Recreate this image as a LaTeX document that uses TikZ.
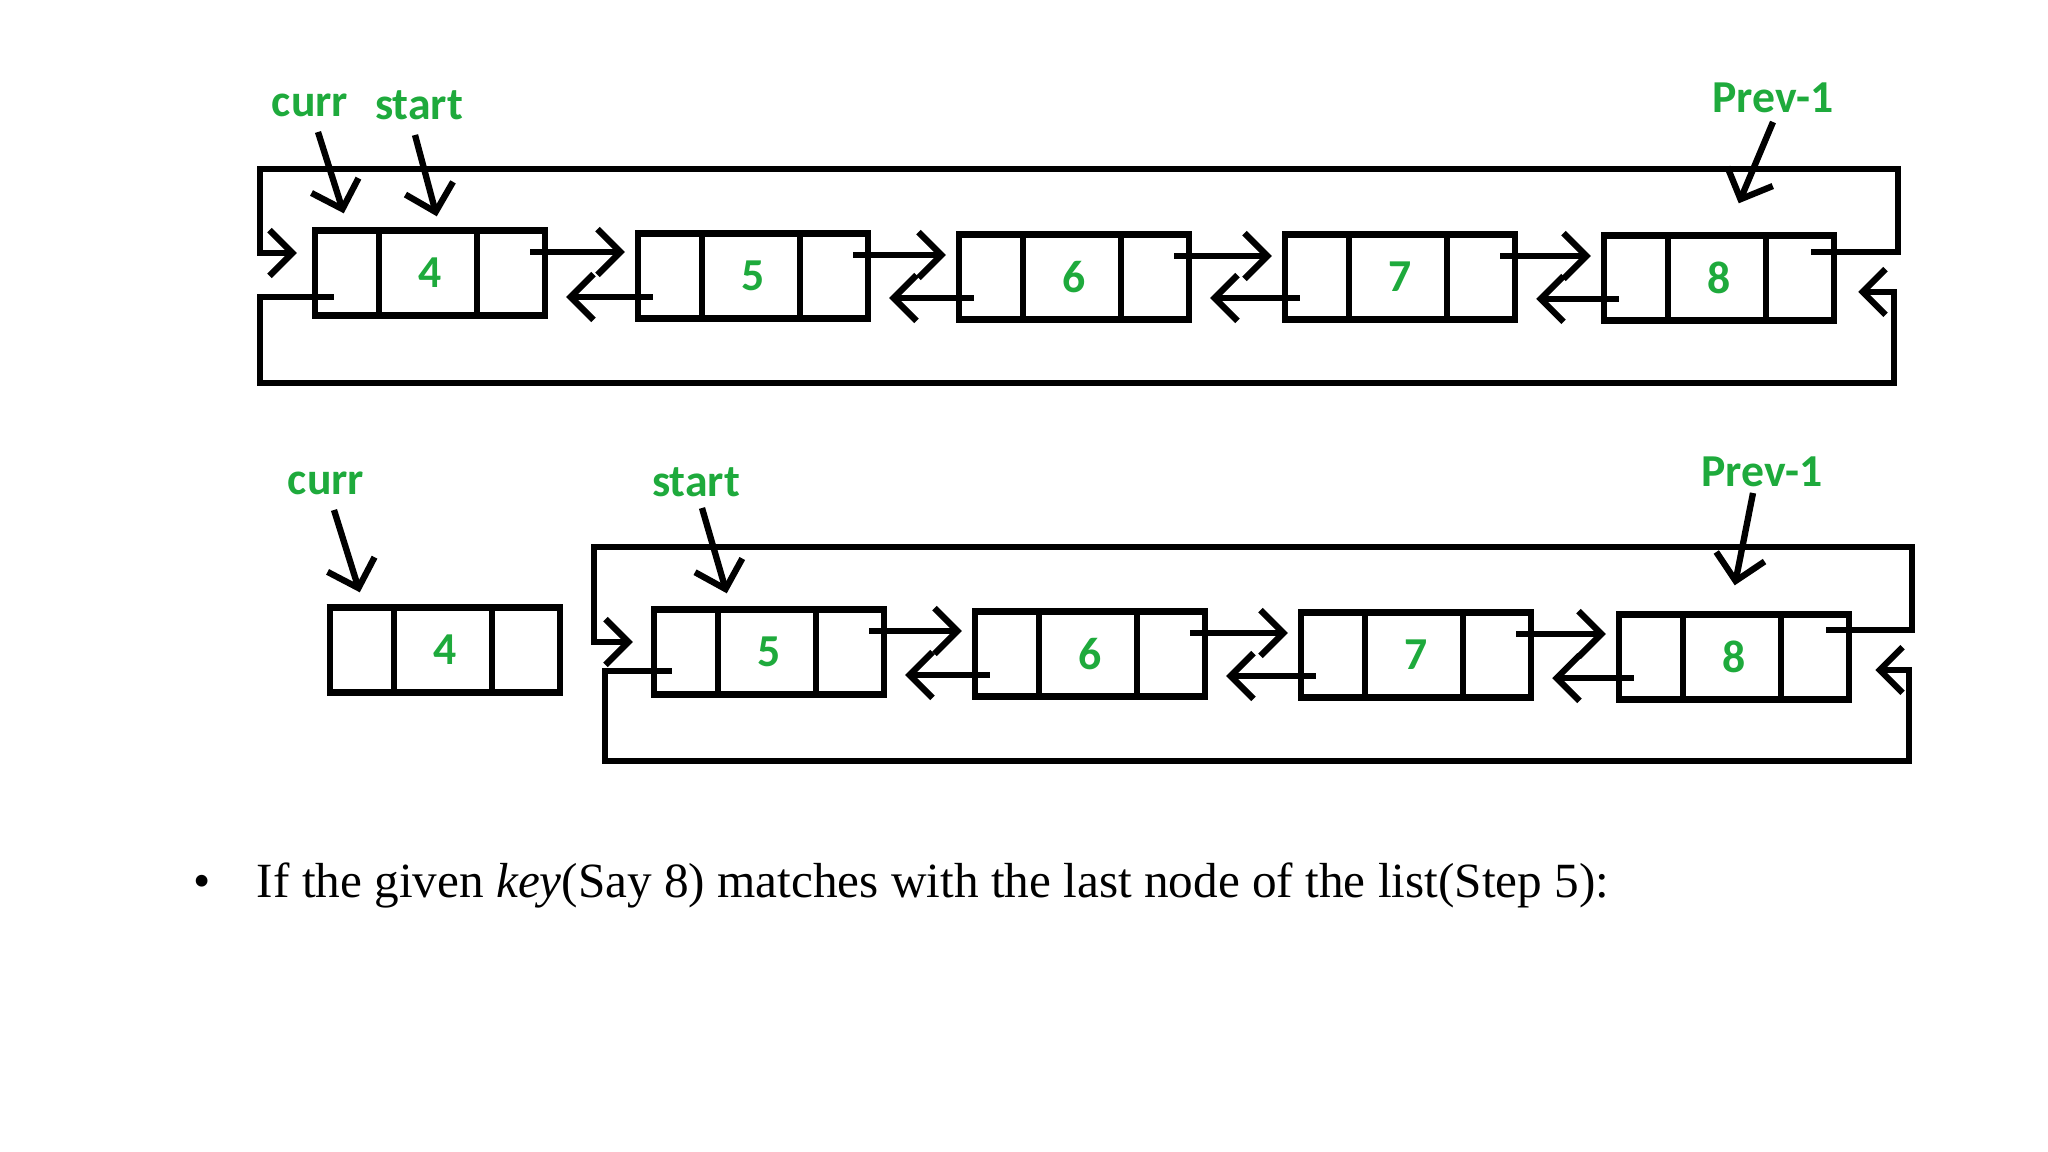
\documentclass[tikz,border=0pt]{standalone}
\usepackage{fontspec}
\setmainfont{Liberation Serif}
\newfontfamily\greenfont{Carlito}
\usetikzlibrary{arrows.meta,calc}
\definecolor{LLGreen}{HTML}{1EAA3C}

\begin{document}
\begin{tikzpicture}[x=0.01cm,y=-0.01cm,
  cellbox/.style={draw=black,line width=1.8pt,minimum width=2.3cm,minimum height=0.85cm,inner sep=0pt,
    font=\greenfont\bfseries\fontsize{13}{15}\selectfont,text=LLGreen},
  divline/.style={line width=1.8pt},
  link/.style={line width=1.8pt,-{Straight Barb[length=6.5pt,width=13pt]}},
  ptr/.style={line width=1.8pt,-{Straight Barb[length=7pt,width=14pt]}},
  lbl/.style={inner sep=0pt,font=\greenfont\bfseries\fontsize{13}{15}\selectfont,text=LLGreen}]
\path[use as bounding box] (0,0) rectangle (2048,1152);
\fill[white] (0,0) rectangle (2048,1152);

% upper list
\node[cellbox] (t4) at (430,273) {4};
\node[cellbox] (t5) at (753,276) {5};
\node[cellbox] (t6) at (1074,277) {6};
\node[cellbox] (t7) at (1400,277) {7};
\node[cellbox] (t8) at (1719,278) {8};
\draw[divline] ($(t4.north west)+(67,0)$) -- ($(t4.south west)+(67,0)$);
\draw[divline] ($(t4.north west)+(165,0)$) -- ($(t4.south west)+(165,0)$);
\draw[divline] ($(t5.north west)+(67,0)$) -- ($(t5.south west)+(67,0)$);
\draw[divline] ($(t5.north west)+(165,0)$) -- ($(t5.south west)+(165,0)$);
\draw[divline] ($(t6.north west)+(67,0)$) -- ($(t6.south west)+(67,0)$);
\draw[divline] ($(t6.north west)+(165,0)$) -- ($(t6.south west)+(165,0)$);
\draw[divline] ($(t7.north west)+(67,0)$) -- ($(t7.south west)+(67,0)$);
\draw[divline] ($(t7.north west)+(165,0)$) -- ($(t7.south west)+(165,0)$);
\draw[divline] ($(t8.north west)+(67,0)$) -- ($(t8.south west)+(67,0)$);
\draw[divline] ($(t8.north west)+(165,0)$) -- ($(t8.south west)+(165,0)$);
\draw[link] ($(t4.east)+(-18,-21)$) -- ($(t5.west |- t4.east)+(-10,-21)$);
\draw[link] ($(t5.west)+(18,21)$) -- ($(t4.east |- t5.west)+(18,21)$);
\draw[link] ($(t5.east)+(-18,-21)$) -- ($(t6.west |- t5.east)+(-10,-21)$);
\draw[link] ($(t6.west)+(18,21)$) -- ($(t5.east |- t6.west)+(18,21)$);
\draw[link] ($(t6.east)+(-18,-21)$) -- ($(t7.west |- t6.east)+(-10,-21)$);
\draw[link] ($(t7.west)+(18,21)$) -- ($(t6.east |- t7.west)+(18,21)$);
\draw[link] ($(t7.east)+(-18,-21)$) -- ($(t8.west |- t7.east)+(-10,-21)$);
\draw[link] ($(t8.west)+(18,21)$) -- ($(t7.east |- t8.west)+(18,21)$);
\draw[link] ($(t8.east)+(-26,-26)$) -- ++(87,0) |- (260,169) |- ($(t4.west)+(-15,-20)$);
\draw[link] ($(t4.west)+(22,24)$) -| (260,383) -| (1894,292) -- ($(t8.east)+(21,14)$);
\node[lbl] (curr1) at (310,105) {curr};
\node[lbl] (start1) at (419,105) {start};
\node[lbl] (prev1) at (1773,98) {Prev-1};
\draw[ptr] (curr1.center) ++(8,27) -- ($(t4.north west)+(32,-14)$);
\draw[ptr] (start1.center) ++(-4,30) -- ($(t4.north west)+(125,-11)$);
\draw[ptr] (prev1.center) ++(0,24) -- ($(t8.north west)+(138,-29)$);

% lower list
\node[cellbox] (b4) at (445,650) {4};
\node[cellbox] (b5) at (769,652) {5};
\node[cellbox] (b6) at (1090,654) {6};
\node[cellbox] (b7) at (1416,655) {7};
\node[cellbox] (b8) at (1734,657) {8};
\draw[divline] ($(b4.north west)+(67,0)$) -- ($(b4.south west)+(67,0)$);
\draw[divline] ($(b4.north west)+(165,0)$) -- ($(b4.south west)+(165,0)$);
\draw[divline] ($(b5.north west)+(67,0)$) -- ($(b5.south west)+(67,0)$);
\draw[divline] ($(b5.north west)+(165,0)$) -- ($(b5.south west)+(165,0)$);
\draw[divline] ($(b6.north west)+(67,0)$) -- ($(b6.south west)+(67,0)$);
\draw[divline] ($(b6.north west)+(165,0)$) -- ($(b6.south west)+(165,0)$);
\draw[divline] ($(b7.north west)+(67,0)$) -- ($(b7.south west)+(67,0)$);
\draw[divline] ($(b7.north west)+(165,0)$) -- ($(b7.south west)+(165,0)$);
\draw[divline] ($(b8.north west)+(67,0)$) -- ($(b8.south west)+(67,0)$);
\draw[divline] ($(b8.north west)+(165,0)$) -- ($(b8.south west)+(165,0)$);
\draw[link] ($(b5.east)+(-18,-21)$) -- ($(b6.west |- b5.east)+(-10,-21)$);
\draw[link] ($(b6.west)+(18,21)$) -- ($(b5.east |- b6.west)+(18,21)$);
\draw[link] ($(b6.east)+(-18,-21)$) -- ($(b7.west |- b6.east)+(-10,-21)$);
\draw[link] ($(b7.west)+(18,21)$) -- ($(b6.east |- b7.west)+(18,21)$);
\draw[link] ($(b7.east)+(-18,-21)$) -- ($(b8.west |- b7.east)+(-10,-21)$);
\draw[link] ($(b8.west)+(18,21)$) -- ($(b7.east |- b8.west)+(18,21)$);
\draw[link] ($(b8.east)+(-26,-27)$) -- ++(86,0) |- (594,547) |- ($(b5.west)+(-18,-10)$);
\draw[link] ($(b5.west)+(21,19)$) -| (605,761) -| (1909,670) -- ($(b8.east)+(23,13)$);
\node[lbl] (curr2) at (326,483) {curr};
\node[lbl] (start2) at (696,482) {start};
\node[lbl] (prev2) at (1762,472) {Prev-1};
\draw[ptr] (curr2.center) ++(8,27) -- ($(b4.north west)+(33,-12)$);
\draw[ptr] (start2.center) ++(6,26) -- ($(b5.north west)+(76,-13)$);
\draw[ptr] (prev2.center) ++(-9,21) -- ($(b8.north west)+(119,-26)$);

% caption line
\node[anchor=base west,inner sep=0pt,font=\fontsize{14}{17}\selectfont] (keyline) at (193,897)
  {•\hspace{0.46cm}If the given \textit{key}(Say 8) matches with the last node of the list(Step 5):};
\end{tikzpicture}
\end{document}
